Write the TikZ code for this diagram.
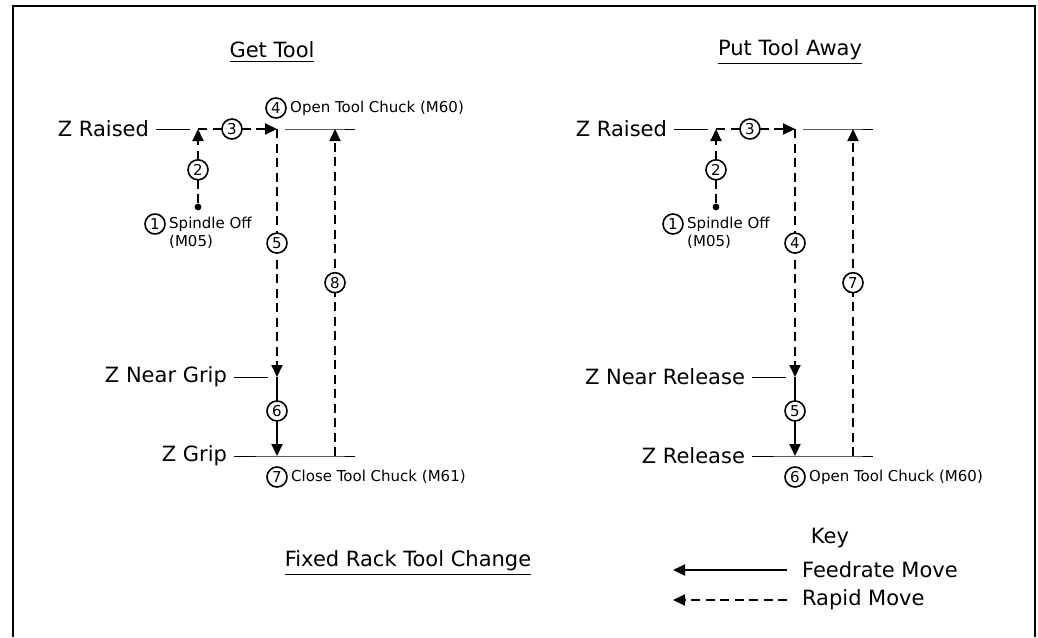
\documentclass[tikz,border=0pt]{standalone}
\usepackage{fontspec}
\setmainfont{DejaVu Sans}
\usetikzlibrary{arrows.meta}
\usetikzlibrary{positioning}

\begin{document}
\begin{tikzpicture}[x=0.5pt, y=-0.5pt, every node/.style={font=\fontsize{10.5}{12}\selectfont},
    zline/.style={line width=0.5pt},
    feed/.style={line width=1pt, -{Triangle[length=6pt, width=5.5pt]}},
    rapid/.style={feed, dash pattern=on 4.5pt off 2.75pt},
    num/.style={circle, draw, solid, line width=0.8pt, fill=white, inner sep=0pt, minimum size=10pt, font=\fontsize{7.5}{8}\selectfont},
    note/.style={font=\fontsize{7.5}{8}\selectfont, inner sep=1.5pt},
    spot/.style={circle, fill, inner sep=0pt, minimum size=3.4pt}]
\useasboundingbox (0,0) rectangle (1038,637);
\draw[line width=1.2pt] (13,637) -- (13,6) -- (1035,6) -- (1035,637);

\node (get) at (272,52) {\underline{Get Tool}};
\node[anchor=east] (zr1) at (156,129) {Z Raised};
\node[anchor=east] (zn1) at (234,377) {Z Near Grip};
\node[anchor=east] (zg1) at (234,456) {Z Grip};

\coordinate (a2) at (198,129);
\coordinate (a5) at (277,129);
\coordinate (a8) at (335,129);
\coordinate (b5) at (277,377);
\coordinate (b6) at (277,456);
\coordinate (b8) at (335,456);
\node[spot] (s1) at (198,207) {};

\draw[zline] (zr1.east) -- ([xshift=-4pt]a2);
\draw[zline] ([xshift=4pt]a5) -- (a8) -- ++(20,0);
\draw[zline] (zn1.east) -- ([xshift=-4.5pt]b5);
\draw[zline] (zg1.east) -- (b6) -- (b8) -- ++(20,0);

\draw[rapid] (s1) -- (a2) node[num, pos=0.45] {2};
\draw[rapid] (a2) -- (a5) node[num, pos=0.43] {3};
\draw[rapid] (a5) -- (b5) node[num, pos=0.46] {5};
\draw[feed] (b5) -- (b6) node[num, pos=0.43] {6};
\draw[rapid] (b8) -- (a8) node[num, pos=0.53] {8};

\node[num] (n1) at (155,224) {1};
\node[note, anchor=west] (t1) at (n1.east) {Spindle Off};
\node[note, anchor=north west, inner sep=0pt] (m1) at ([xshift=1.5pt]t1.south west) {(M05)};
\node[num] (n4) at (276,108) {4};
\node[note, anchor=west] (t4) at (n4.east) {Open Tool Chuck (M60)};
\node[num] (n7) at (277,477) {7};
\node[note, anchor=west] (t7) at (n7.east) {Close Tool Chuck (M61)};

\begin{scope}[shift={(518,0)}]
    \node (put) at (272,52) {\underline{Put Tool Away}};
    \node[anchor=east] (zr2) at (156,129) {Z Raised};
    \node[anchor=east] (zn2) at (234,377) {Z Near Release};
    \node[anchor=east] (zg2) at (234,456) {Z Release};

    \coordinate (c2) at (198,129);
    \coordinate (c4) at (277,129);
    \coordinate (c7) at (335,129);
    \coordinate (d4) at (277,377);
    \coordinate (d5) at (277,456);
    \coordinate (d7) at (335,456);
    \node[spot] (s2) at (198,207) {};

    \draw[zline] (zr2.east) -- ([xshift=-4pt]c2);
    \draw[zline] ([xshift=4pt]c4) -- (c7) -- ++(20,0);
    \draw[zline] (zn2.east) -- ([xshift=-4.5pt]d4);
    \draw[zline] (zg2.east) -- (d5) -- (d7) -- ++(20,0);

    \draw[rapid] (s2) -- (c2) node[num, pos=0.45] {2};
    \draw[rapid] (c2) -- (c4) node[num, pos=0.43] {3};
    \draw[rapid] (c4) -- (d4) node[num, pos=0.46] {4};
    \draw[feed] (d4) -- (d5) node[num, pos=0.43] {5};
    \draw[rapid] (d7) -- (c7) node[num, pos=0.53] {7};

    \node[num] (p1) at (155,224) {1};
    \node[note, anchor=west] (u1) at (p1.east) {Spindle Off};
    \node[note, anchor=north west, inner sep=0pt] (v1) at ([xshift=1.5pt]u1.south west) {(M05)};
    \node[num] (p6) at (277,477) {6};
    \node[note, anchor=west] (u6) at (p6.east) {Open Tool Chuck (M60)};
\end{scope}

\node (title) at (408,563) {\underline{Fixed Rack Tool Change}};

\node (key) at (830,538) {Key};
\node[anchor=west] (kf) at (795,570) {Feedrate Move};
\node[anchor=west] (kr) at (795,600) {Rapid Move};
\coordinate (kf0) at (673,570);
\coordinate (kr0) at (673,600);
\draw[feed] ([xshift=-4pt]kf.west) -- (kf0);
\draw[rapid] ([xshift=-4pt]kr.west) -- (kr0);
\end{tikzpicture}
\end{document}
